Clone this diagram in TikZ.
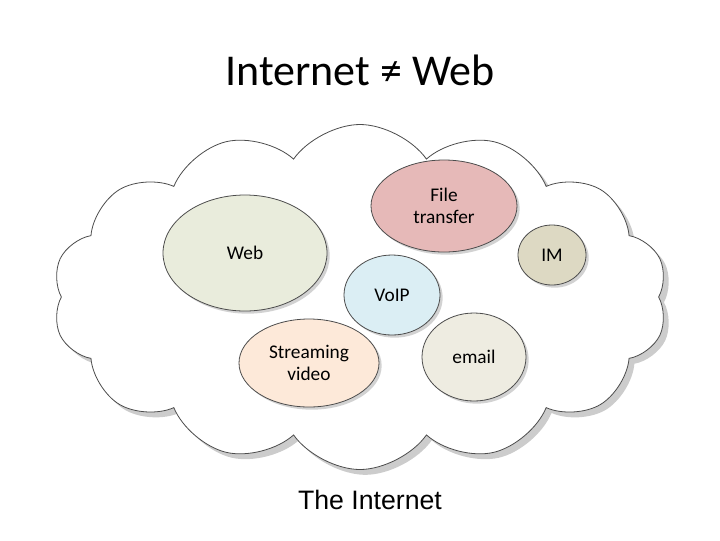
\documentclass[tikz,border=0pt]{standalone}
\usepackage{fontspec}
\setmainfont{Carlito}
\newfontfamily\arialf{Liberation Sans}
\usetikzlibrary{shapes.symbols,shapes.geometric,shadows}
\begin{document}
\begin{tikzpicture}[x=0.75pt,y=-0.75pt,
  bub/.style={ellipse,draw=black!70,line width=0.6pt,inner sep=0pt,align=center,font=\fontsize{14.5}{17}\selectfont,
    drop shadow={shadow xshift=2pt,shadow yshift=-2pt,fill=black!35}}]
\useasboundingbox (0,0) rectangle (720,540);
\node (title) at (360,70) {\fontsize{33}{36}\selectfont Internet ≠ Web};
\node (cloud) [cloud,cloud puffs=14,cloud puff arc=110,aspect=1.8,draw=black!70,fill=white,line width=0.6pt,
  minimum width=615*0.75pt,minimum height=345*0.75pt,inner sep=0pt,
  drop shadow={shadow xshift=4pt,shadow yshift=-4pt,fill=black!40}] at (360,297) {};
\node[bub,fill={rgb,255:red,233;green,236;blue,220},minimum width=164*0.75pt,minimum height=116*0.75pt] (web) at (245,253) {Web};
\node[bub,fill={rgb,255:red,230;green,185;blue,184},minimum width=146*0.75pt,minimum height=92*0.75pt] (ft) at (444,206) {File\\transfer};
\node[bub,fill={rgb,255:red,221;green,217;blue,195},minimum width=68*0.75pt,minimum height=60*0.75pt] (im) at (552,255) {IM};
\node[bub,fill={rgb,255:red,219;green,238;blue,244},minimum width=96*0.75pt,minimum height=80*0.75pt] (voip) at (392,295) {VoIP};
\node[bub,fill={rgb,255:red,253;green,233;blue,217},minimum width=140*0.75pt,minimum height=88*0.75pt] (sv) at (309,363) {Streaming\\video};
\node[bub,fill={rgb,255:red,238;green,236;blue,225},minimum width=104*0.75pt,minimum height=88*0.75pt] (em) at (474,357) {email};
\node (lab) at (370,500) {\arialf\fontsize{20}{22}\selectfont The Internet};
\end{tikzpicture}
\end{document}
